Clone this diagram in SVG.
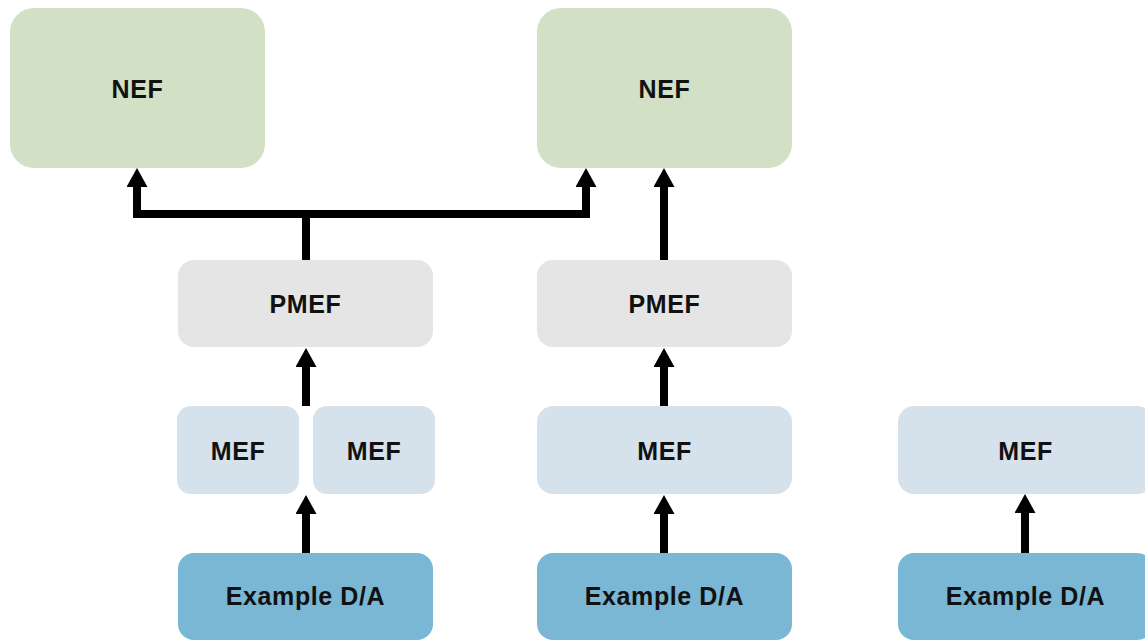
<svg xmlns="http://www.w3.org/2000/svg" width="1145" height="641" viewBox="0 0 1145 641">
<defs>
<style>
.nef{fill:#d2e0c5}
.pmef{fill:#e5e5e5}
.mef{fill:#d5e1eb}
.da{fill:#79b7d4}
.t{font-family:"Liberation Sans",Arial,sans-serif;font-weight:bold;font-size:25px;letter-spacing:0.6px;fill:#111;text-anchor:middle}
.c{fill:none;stroke:#000;stroke-width:8;stroke-linejoin:miter;marker-end:url(#ah)}
.cl{fill:none;stroke:#000;stroke-width:8;stroke-linejoin:miter}
</style>
<marker id="ah" viewBox="0 0 19 21" refX="9" refY="10.5" markerWidth="19" markerHeight="21" markerUnits="userSpaceOnUse" orient="auto">
<path d="M0,0 L19,10.5 L0,21 z" fill="#000"/>
</marker>
</defs>
<rect width="1145" height="641" fill="#fff"/>
<g id="nef1"><rect class="nef" x="10" y="8" width="255" height="160" rx="24"/><text class="t" x="137.5" y="98">NEF</text></g>
<g id="nef2"><rect class="nef" x="537" y="8" width="255" height="160" rx="24"/><text class="t" x="664.5" y="98">NEF</text></g>
<g id="pmef1"><rect class="pmef" x="178" y="260" width="255" height="87" rx="16"/><text class="t" x="305.5" y="313">PMEF</text></g>
<g id="pmef2"><rect class="pmef" x="537" y="260" width="255" height="87" rx="16"/><text class="t" x="664.5" y="313">PMEF</text></g>
<g id="mef1"><rect class="mef" x="177" y="406" width="122" height="88" rx="14"/><text class="t" x="238" y="460">MEF</text></g>
<g id="mef2"><rect class="mef" x="313" y="406" width="122" height="88" rx="14"/><text class="t" x="374" y="460">MEF</text></g>
<g id="mef3"><rect class="mef" x="537" y="406" width="255" height="88" rx="16"/><text class="t" x="664.5" y="460">MEF</text></g>
<g id="mef4"><rect class="mef" x="898" y="406" width="255" height="88" rx="16"/><text class="t" x="1025.5" y="460">MEF</text></g>
<g id="da1"><rect class="da" x="178" y="553" width="255" height="87" rx="16"/><text class="t" x="305.5" y="605">Example D/A</text></g>
<g id="da2"><rect class="da" x="537" y="553" width="255" height="87" rx="16"/><text class="t" x="664.5" y="605">Example D/A</text></g>
<g id="da3"><rect class="da" x="898" y="553" width="255" height="87" rx="16"/><text class="t" x="1025.5" y="605">Example D/A</text></g>
<g id="connectors">
<path class="c" d="M306,260 V214 H137 V178"/>
<path class="c" d="M306,214 H586 V178"/>
<path class="c" d="M664,260 V178"/>
<path class="c" d="M306,406 V358"/>
<path class="c" d="M664,406 V358"/>
<path class="c" d="M306,553 V505"/>
<path class="c" d="M664,553 V505"/>
<path class="c" d="M1025,553 V504"/>
</g>
</svg>
